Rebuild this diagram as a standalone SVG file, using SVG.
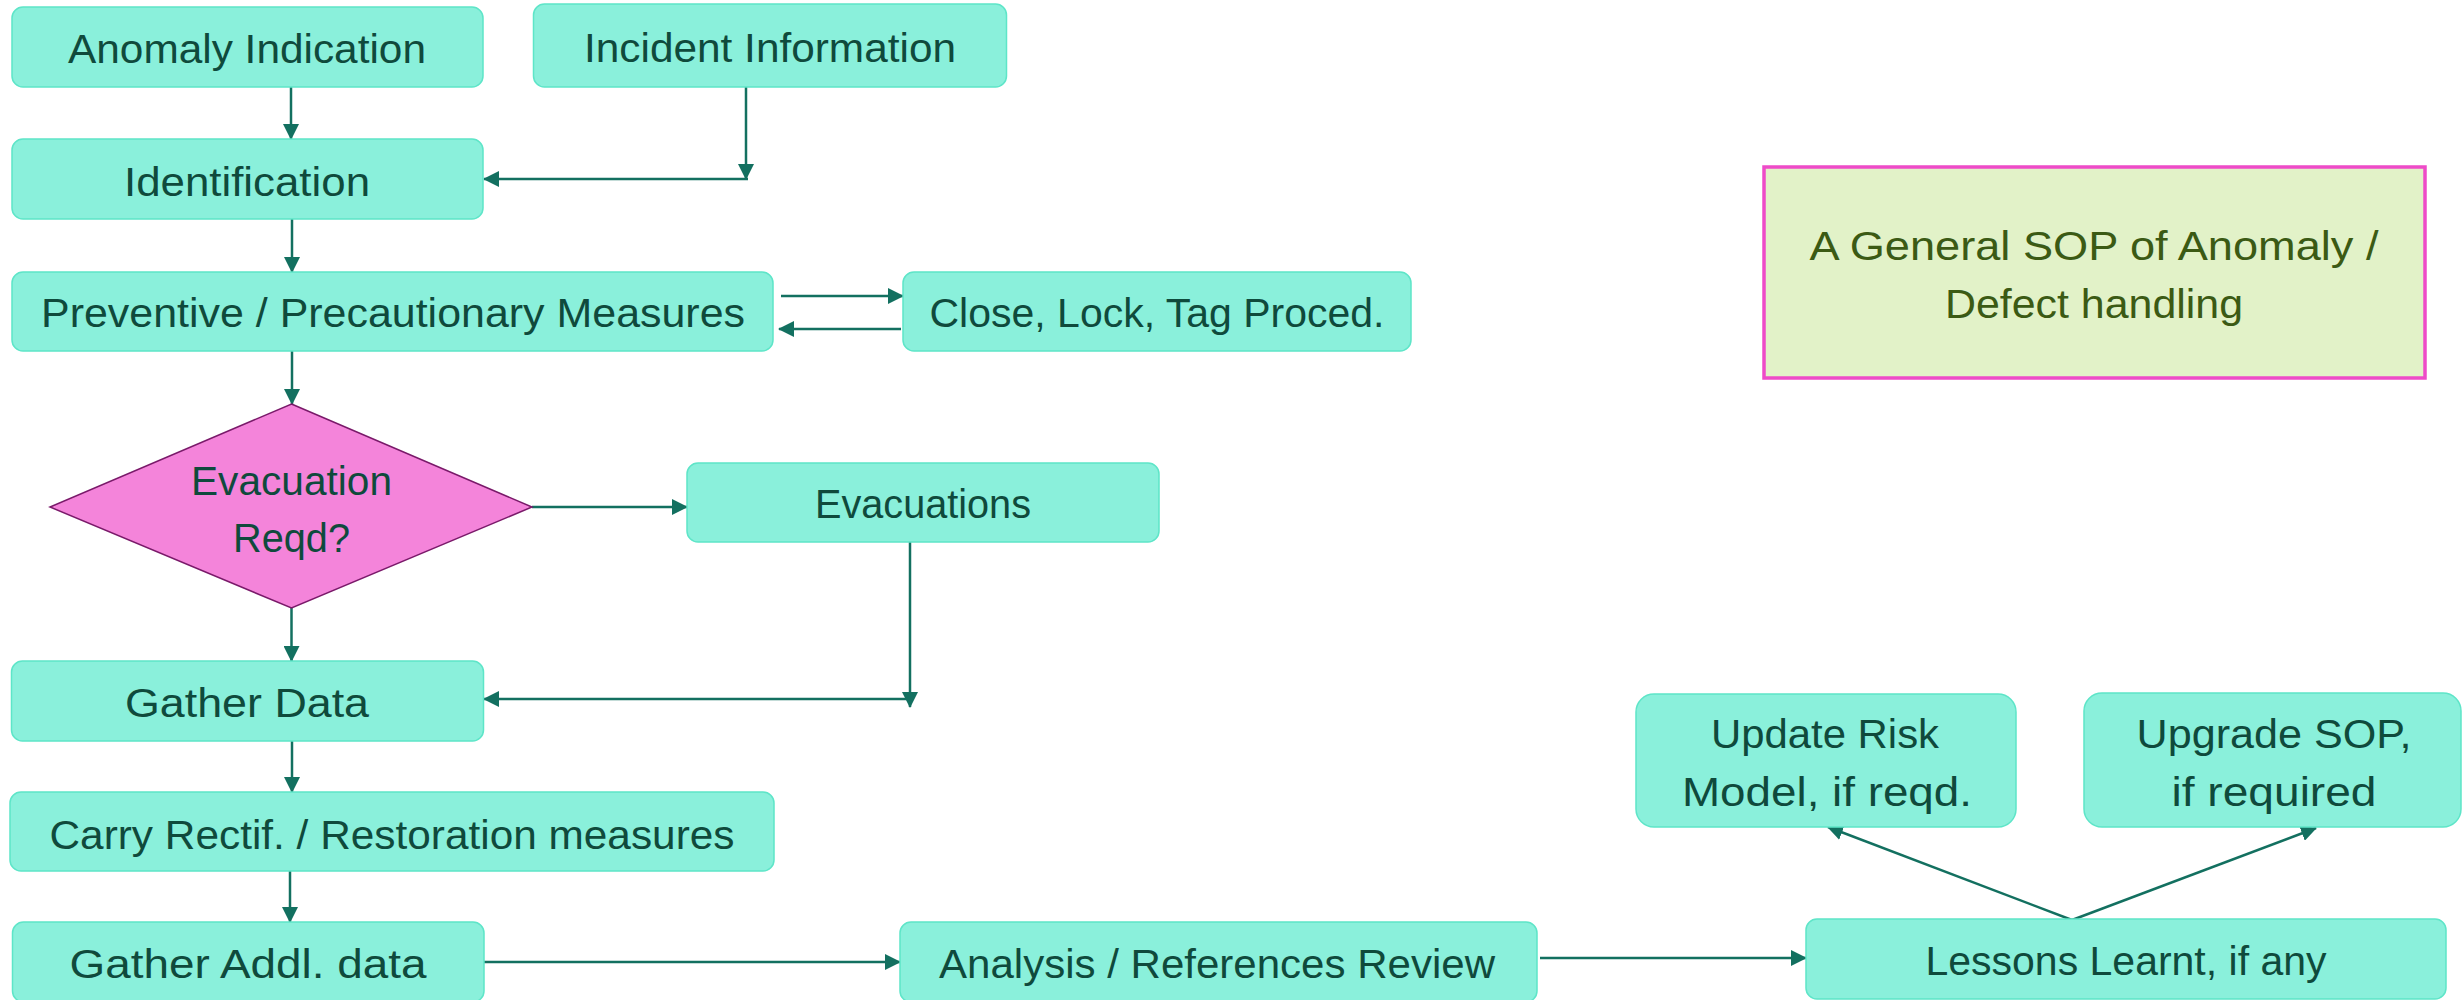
<svg xmlns="http://www.w3.org/2000/svg" width="2463" height="1000" viewBox="0 0 2463 1000">
  <style>
    .box { fill: #8AF0DB; stroke: #5EE5C8; stroke-width: 1.5; }
    .dec { fill: #F484DA; stroke: #7A1A6A; stroke-width: 1.5; }
    .title { fill: #E2F2C8; stroke: #EE4BC8; stroke-width: 3.5; }
    .lbl { font-family: "Liberation Sans", Arial, sans-serif; font-size: 40px; fill: #0F4A3C; text-anchor: middle; }
    .tlbl { font-family: "Liberation Sans", Arial, sans-serif; font-size: 40px; fill: #3B5A14; text-anchor: middle; }
    .conn { fill: none; stroke: #137060; stroke-width: 2.5; marker-end: url(#arrow); }
  </style>
  <defs>
    <marker id="arrow" markerUnits="userSpaceOnUse" viewBox="0 0 16 16" refX="15" refY="8" markerWidth="16" markerHeight="16" orient="auto">
      <path d="M0,0 L16,8 L0,16 z" fill="#137060"/>
    </marker>
  </defs>

  <rect width="2463" height="1000" fill="#FFFFFF"/>

  <!-- connectors -->
  <g id="connectors">
    <path class="conn" d="M291,87 V139"/>
    <path class="conn" d="M746,87 V179"/>
    <path class="conn" d="M748,179 H484"/>
    <path class="conn" d="M292,219 V272"/>
    <path class="conn" d="M781,296 H903"/>
    <path class="conn" d="M901,329 H779"/>
    <path class="conn" d="M292,351 V404"/>
    <path class="conn" d="M532,507 H687"/>
    <path class="conn" d="M910,542 V707"/>
    <path class="conn" d="M908,699 H484"/>
    <path class="conn" d="M291.5,608 V661"/>
    <path class="conn" d="M292,741 V792"/>
    <path class="conn" d="M290,871 V922"/>
    <path class="conn" d="M484,962 H900"/>
    <path class="conn" d="M1540,958 H1806"/>
    <path class="conn" d="M2072,920 L1828,827"/>
    <path class="conn" d="M2072,920 L2316,828"/>
  </g>

  <!-- flow steps -->
  <g id="anomaly-indication">
    <rect class="box" x="12" y="7" width="471" height="80" rx="11"/>
    <text class="lbl" x="247" y="63" textLength="358" lengthAdjust="spacingAndGlyphs">Anomaly Indication</text>
  </g>
  <g id="incident-information">
    <rect class="box" x="533.5" y="4" width="473" height="83" rx="11"/>
    <text class="lbl" x="770" y="62" textLength="372" lengthAdjust="spacingAndGlyphs">Incident Information</text>
  </g>
  <g id="identification">
    <rect class="box" x="12" y="139" width="471" height="80" rx="11"/>
    <text class="lbl" x="247" y="196" textLength="246" lengthAdjust="spacingAndGlyphs">Identification</text>
  </g>
  <g id="preventive-measures">
    <rect class="box" x="12" y="272" width="761" height="79" rx="11"/>
    <text class="lbl" x="393" y="327" textLength="704" lengthAdjust="spacingAndGlyphs">Preventive / Precautionary Measures</text>
  </g>
  <g id="close-lock-tag">
    <rect class="box" x="903" y="272" width="508" height="79" rx="11"/>
    <text class="lbl" x="1157" y="327" textLength="455" lengthAdjust="spacingAndGlyphs">Close, Lock, Tag Proced.</text>
  </g>
  <g id="evacuation-decision">
    <polygon class="dec" points="291.5,404 532,507 291.5,608 50,507"/>
    <text class="lbl" x="291.5" y="495" textLength="201" lengthAdjust="spacingAndGlyphs">Evacuation</text>
    <text class="lbl" x="291.5" y="552" textLength="117" lengthAdjust="spacingAndGlyphs">Reqd?</text>
  </g>
  <g id="evacuations">
    <rect class="box" x="687" y="463" width="472" height="79" rx="11"/>
    <text class="lbl" x="923" y="518" textLength="216" lengthAdjust="spacingAndGlyphs">Evacuations</text>
  </g>
  <g id="gather-data">
    <rect class="box" x="11.5" y="661" width="472" height="80" rx="11"/>
    <text class="lbl" x="247" y="717" textLength="244" lengthAdjust="spacingAndGlyphs">Gather Data</text>
  </g>
  <g id="rectification">
    <rect class="box" x="10" y="792" width="764" height="79" rx="11"/>
    <text class="lbl" x="392" y="849" textLength="685" lengthAdjust="spacingAndGlyphs">Carry Rectif. / Restoration measures</text>
  </g>
  <g id="gather-additional-data">
    <rect class="box" x="12.5" y="922" width="471.5" height="80" rx="11"/>
    <text class="lbl" x="248" y="978" textLength="357" lengthAdjust="spacingAndGlyphs">Gather Addl. data</text>
  </g>
  <g id="analysis-review">
    <rect class="box" x="900" y="922" width="637" height="80" rx="11"/>
    <text class="lbl" x="1217" y="978" textLength="556" lengthAdjust="spacingAndGlyphs">Analysis / References Review</text>
  </g>
  <g id="lessons-learnt">
    <rect class="box" x="1806" y="919" width="640" height="80" rx="11"/>
    <text class="lbl" x="2126" y="975" textLength="401" lengthAdjust="spacingAndGlyphs">Lessons Learnt, if any</text>
  </g>
  <g id="update-risk-model">
    <rect class="box" x="1636" y="694" width="380" height="133" rx="18"/>
    <text class="lbl" x="1825" y="748" textLength="228" lengthAdjust="spacingAndGlyphs">Update Risk</text>
    <text class="lbl" x="1827" y="806" textLength="290" lengthAdjust="spacingAndGlyphs">Model, if reqd.</text>
  </g>
  <g id="upgrade-sop">
    <rect class="box" x="2084" y="693" width="377" height="134" rx="18"/>
    <text class="lbl" x="2274" y="748" textLength="275" lengthAdjust="spacingAndGlyphs">Upgrade SOP,</text>
    <text class="lbl" x="2274" y="806" textLength="205" lengthAdjust="spacingAndGlyphs">if required</text>
  </g>

  <!-- heading panel -->
  <g id="heading">
    <rect class="title" x="1764" y="167" width="661" height="211"/>
    <text class="tlbl" x="2094" y="260" textLength="569" lengthAdjust="spacingAndGlyphs">A General SOP of Anomaly /</text>
    <text class="tlbl" x="2094" y="318" textLength="298" lengthAdjust="spacingAndGlyphs">Defect handling</text>
  </g>
</svg>
